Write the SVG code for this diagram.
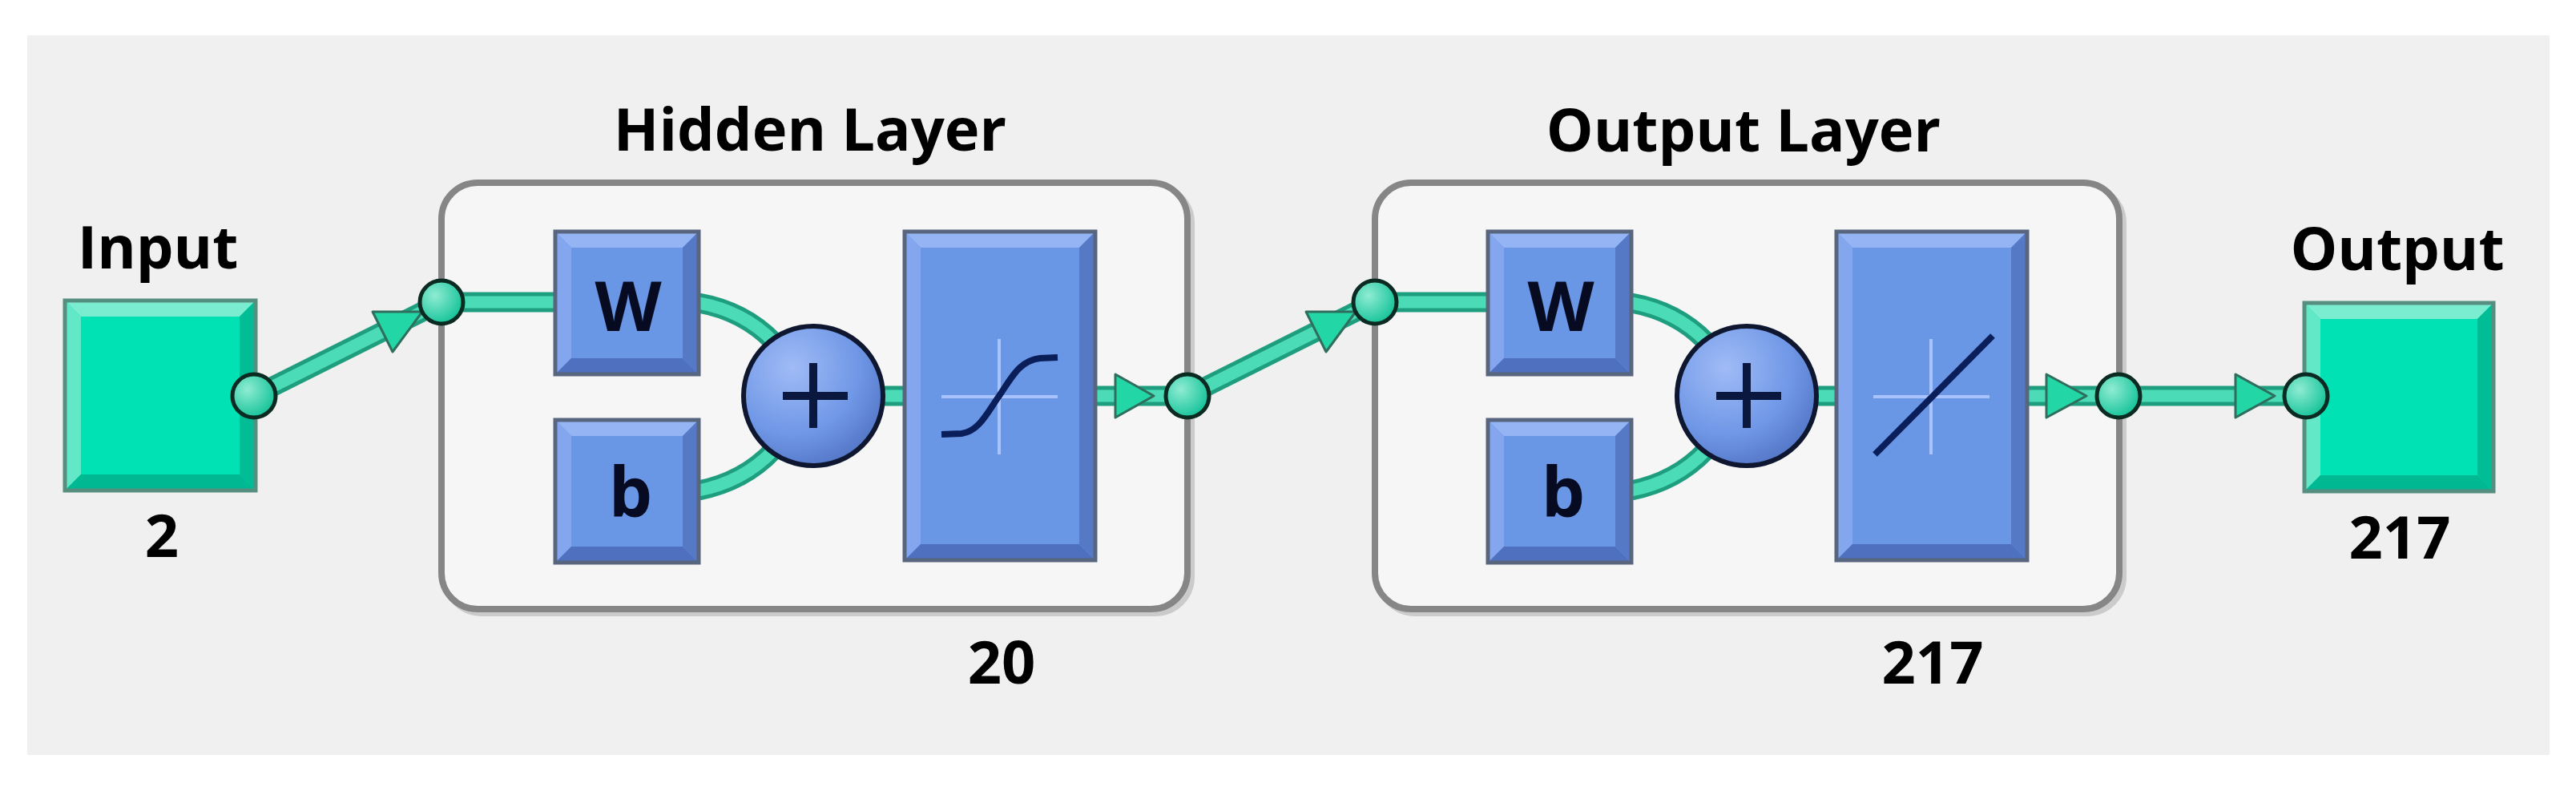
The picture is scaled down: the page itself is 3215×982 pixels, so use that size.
<svg xmlns="http://www.w3.org/2000/svg" width="3215" height="982" viewBox="0 0 3215 982">
<defs>
<style>
.lbl{font-family:"Open Sans","Liberation Sans",sans-serif;font-weight:700;font-size:74px;fill:#000;text-anchor:middle}
.sym{font-family:"Open Sans","Liberation Sans",sans-serif;font-weight:700;font-size:86px;fill:#060b22;text-anchor:middle}
.frame{fill:#f6f6f6;stroke:#868686;stroke-width:8}
.shadow{fill:none;stroke:#cbcbcb;stroke-width:8}
.pipeO{fill:none;stroke:#1e9e7f;stroke-width:25}
.pipeI{fill:none;stroke:#4bdcb7;stroke-width:15}
.port{fill:url(#portG);stroke:#0b2b22;stroke-width:5}
.arrow{fill:#22d6a6;stroke:#2f6e5d;stroke-width:3;stroke-linejoin:round}
.bFill{fill:#6a96e6}.bTop{fill:#94b4f4}.bLeft{fill:#84a6ee}.bBot{fill:#4e70bf}.bRight{fill:#5679c6}
.bEdge{fill:none;stroke:#58657f;stroke-width:5}
.tFill{fill:#00e2b4}.tTop{fill:#7aeccf}.tLeft{fill:#62e8c6}.tBot{fill:#00b891}.tRight{fill:#00bd95}
.tEdge{fill:none;stroke:#568f80;stroke-width:5}
.sum{fill:url(#sumG);stroke:#0e1630;stroke-width:6}
.plus{stroke:#0a1840;stroke-width:10;fill:none}
.cross{stroke:#a9c3ff;stroke-width:4;fill:none}
.curve{stroke:#0a1e5a;stroke-width:8;fill:none;stroke-linecap:butt}
</style>
<radialGradient id="portG" cx="0.35" cy="0.35" r="0.7"><stop offset="0" stop-color="#8fecd3"/><stop offset="1" stop-color="#12c298"/></radialGradient>
<radialGradient id="sumG" cx="0.35" cy="0.3" r="0.8"><stop offset="0" stop-color="#a0bbf6"/><stop offset="0.6" stop-color="#6f97e6"/><stop offset="1" stop-color="#4f70c0"/></radialGradient>
</defs>

<rect x="0" y="0" width="3215" height="982" fill="#ffffff"/>
<rect x="34" y="44" width="3148" height="898" fill="#f0f0f0"/>

<!-- layer frames -->
<g id="hidden-layer">
  <rect class="shadow" x="556" y="233" width="931" height="532" rx="45"/>
  <rect class="frame" x="551" y="228" width="931" height="532" rx="45"/>
  <text class="lbl" x="1011" y="188">Hidden Layer</text>
  <text class="lbl" x="1250" y="853">20</text>
</g>
<g id="output-layer">
  <rect class="shadow" x="1721" y="233" width="929" height="532" rx="45"/>
  <rect class="frame" x="1716" y="228" width="929" height="532" rx="45"/>
  <text class="lbl" x="2176" y="189">Output Layer</text>
  <text class="lbl" x="2412" y="853">217</text>
</g>

<!-- input node -->
<g id="input">
  <rect class="tFill" x="81" y="375" width="238" height="237"/>
  <polygon class="tTop" points="81,375 319,375 299,395 101,395"/>
  <polygon class="tLeft" points="81,375 101,395 101,592 81,612"/>
  <polygon class="tBot" points="81,612 101,592 299,592 319,612"/>
  <polygon class="tRight" points="319,375 319,612 299,592 299,395"/>
  <rect class="tEdge" x="81" y="375" width="238" height="237"/>
  <text class="lbl" x="197" y="335">Input</text>
  <text class="lbl" x="202" y="695">2</text>
</g>

<!-- output node -->
<g id="output">
  <rect class="tFill" x="2876" y="378" width="236" height="235"/>
  <polygon class="tTop" points="2876,378 3112,378 3092,398 2896,398"/>
  <polygon class="tLeft" points="2876,378 2896,398 2896,593 2876,613"/>
  <polygon class="tBot" points="2876,613 2896,593 3092,593 3112,613"/>
  <polygon class="tRight" points="3112,378 3112,613 3092,593 3092,398"/>
  <rect class="tEdge" x="2876" y="378" width="236" height="235"/>
  <text class="lbl" x="2992" y="337">Output</text>
  <text class="lbl" x="2995" y="697">217</text>
</g>

<!-- connectors -->
<g id="connectors">
  <path class="pipeO" d="M317,494 L551,377 M551,377 H693 M872,378 Q928,388 965,426 M872,612 Q928,601 965,562 M1100,494 H1129 M1367,494 H1482 M1482,494 L1716,377 M1716,377 H1857 M2036,378 Q2092,388 2129,426 M2036,612 Q2092,601 2129,562 M2264,494 H2292 M2530,494 H2644 M2644,494 H2878"/>
  <path class="pipeI" d="M317,494 L551,377 M551,377 H693 M872,378 Q928,388 965,426 M872,612 Q928,601 965,562 M1100,494 H1129 M1367,494 H1482 M1482,494 L1716,377 M1716,377 H1857 M2036,378 Q2092,388 2129,426 M2036,612 Q2092,601 2129,562 M2264,494 H2292 M2530,494 H2644 M2644,494 H2878"/>
  <polygon class="arrow" points="527,389 465,389 490,439"/>
  <polygon class="arrow" points="1692,389 1630,389 1655,439"/>
  <polygon class="arrow" points="1392,467 1440,494 1392,521"/>
  <polygon class="arrow" points="2554,467 2604,494 2554,521"/>
  <polygon class="arrow" points="2790,467 2839,494 2790,521"/>
</g>

<!-- hidden layer parts -->
<g id="hidden-W">
  <rect class="bFill" x="693" y="289" width="179" height="178"/>
  <polygon class="bTop" points="693,289 872,289 852,309 713,309"/>
  <polygon class="bLeft" points="693,289 713,309 713,447 693,467"/>
  <polygon class="bBot" points="693,467 713,447 852,447 872,467"/>
  <polygon class="bRight" points="872,289 872,467 852,447 852,309"/>
  <rect class="bEdge" x="693" y="289" width="179" height="178"/>
  <text class="sym" x="784" y="413">W</text>
</g>
<g id="hidden-b">
  <rect class="bFill" x="693" y="524" width="179" height="178"/>
  <polygon class="bTop" points="693,524 872,524 852,544 713,544"/>
  <polygon class="bLeft" points="693,524 713,544 713,682 693,702"/>
  <polygon class="bBot" points="693,702 713,682 852,682 872,702"/>
  <polygon class="bRight" points="872,524 872,702 852,682 852,544"/>
  <rect class="bEdge" x="693" y="524" width="179" height="178"/>
  <text class="sym" x="787" y="645">b</text>
</g>
<g id="hidden-sum">
  <circle class="sum" cx="1015" cy="494" r="87"/>
  <path class="plus" d="M977,494 H1058 M1015,453 V534"/>
</g>
<g id="hidden-transfer">
  <rect class="bFill" x="1129" y="289" width="238" height="410"/>
  <polygon class="bTop" points="1129,289 1367,289 1347,309 1149,309"/>
  <polygon class="bLeft" points="1129,289 1149,309 1149,679 1129,699"/>
  <polygon class="bBot" points="1129,699 1149,679 1347,679 1367,699"/>
  <polygon class="bRight" points="1367,289 1367,699 1347,679 1347,309"/>
  <rect class="bEdge" x="1129" y="289" width="238" height="410"/>
  <path class="cross" d="M1247,423 V567 M1175,495 H1320"/>
  <path class="curve" d="M1175,542 L1200,541 C1222,538 1232,515 1247,494 C1262,472 1272,450 1298,447 L1320,446"/>
</g>

<!-- output layer parts -->
<g id="output-W">
  <rect class="bFill" x="1857" y="289" width="179" height="178"/>
  <polygon class="bTop" points="1857,289 2036,289 2016,309 1877,309"/>
  <polygon class="bLeft" points="1857,289 1877,309 1877,447 1857,467"/>
  <polygon class="bBot" points="1857,467 1877,447 2016,447 2036,467"/>
  <polygon class="bRight" points="2036,289 2036,467 2016,447 2016,309"/>
  <rect class="bEdge" x="1857" y="289" width="179" height="178"/>
  <text class="sym" x="1948" y="413">W</text>
</g>
<g id="output-b">
  <rect class="bFill" x="1857" y="524" width="179" height="178"/>
  <polygon class="bTop" points="1857,524 2036,524 2016,544 1877,544"/>
  <polygon class="bLeft" points="1857,524 1877,544 1877,682 1857,702"/>
  <polygon class="bBot" points="1857,702 1877,682 2016,682 2036,702"/>
  <polygon class="bRight" points="2036,524 2036,702 2016,682 2016,544"/>
  <rect class="bEdge" x="1857" y="524" width="179" height="178"/>
  <text class="sym" x="1951" y="645">b</text>
</g>
<g id="output-sum">
  <circle class="sum" cx="2180" cy="494" r="87"/>
  <path class="plus" d="M2142,494 H2223 M2180,453 V534"/>
</g>
<g id="output-transfer">
  <rect class="bFill" x="2292" y="289" width="238" height="410"/>
  <polygon class="bTop" points="2292,289 2530,289 2510,309 2312,309"/>
  <polygon class="bLeft" points="2292,289 2312,309 2312,679 2292,699"/>
  <polygon class="bBot" points="2292,699 2312,679 2510,679 2530,699"/>
  <polygon class="bRight" points="2530,289 2530,699 2510,679 2510,309"/>
  <rect class="bEdge" x="2292" y="289" width="238" height="410"/>
  <path class="cross" d="M2410,423 V567 M2338,495 H2483"/>
  <path class="curve" d="M2340,567 L2487,419"/>
</g>

<!-- ports -->
<g id="ports">
  <circle class="port" cx="317" cy="494" r="27"/>
  <circle class="port" cx="551" cy="377" r="27"/>
  <circle class="port" cx="1482" cy="494" r="27"/>
  <circle class="port" cx="1716" cy="377" r="27"/>
  <circle class="port" cx="2644" cy="494" r="27"/>
  <circle class="port" cx="2878" cy="494" r="27"/>
</g>
</svg>
